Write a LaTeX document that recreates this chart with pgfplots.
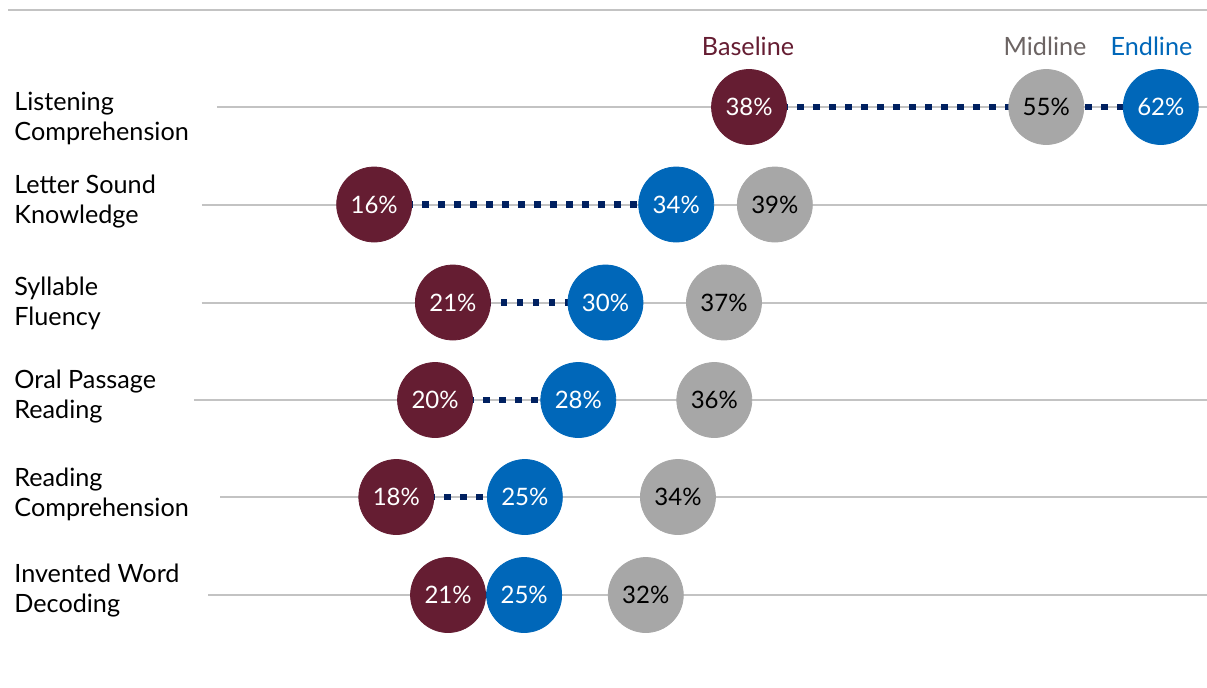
\documentclass[border=0pt]{standalone}
\usepackage{pgfplots}
\pgfplotsset{compat=1.18}
\usepackage{pgfplotstable}
\usepackage{fontspec}
\setmainfont{Lato}

\definecolor{basec}{HTML}{651D32}
\definecolor{midc}{HTML}{A7A7A7}
\definecolor{endc}{HTML}{0067B9}
\definecolor{navy}{HTML}{002060}
\definecolor{rulec}{HTML}{C3C3C3}
\definecolor{midtxt}{HTML}{6C6463}

% y = row position (px from top), b/m/e = baseline/midline/endline, *l = printed label
\pgfplotstableread{
y     b     bl  m     ml  e     el
107   37.98 38  55.16 55  61.78 62
204.5 16.31 16  39.47 39  33.77 34
302.5 20.86 21  36.53 37  29.68 30
400   19.83 20  35.97 36  28.11 28
497   17.59 18  33.87 34  25.02 25
595   20.58 21  32.01 32  24.98 25
}\scores

\begin{document}
\begin{tikzpicture}[font=\fontsize{12.6}{15}\selectfont,
    lab/.style={anchor=base west, inner sep=0pt}]
\begin{axis}[
    scale only axis, width=603.5pt, height=343.5pt,
    xmin=-5.318, xmax=64.451, ymin=0, ymax=687, y dir=reverse,
    hide axis, clip=false,
    dot/.style={only marks, color=#1, mark=*, mark size=18.75pt,
      mark options={fill=#1, draw=none},
      nodes near coords=\pgfplotspointmeta\%, point meta=explicit symbolic,
      nodes near coords align=center,
      nodes near coords style={anchor=center, text=white, font=\fontsize{12}{13}\selectfont}},
    rowline/.style={rulec, line width=1pt},
    conn/.style={navy, line width=3.3pt, dash pattern=on 3.3pt off 4.7pt},
  ]
% rules
\addplot[rowline] coordinates {(-4.855,10) (64.451,10)};
\addplot[rowline] coordinates {(7.225,107) (64.451,107)};
\addplot[rowline] coordinates {(6.358,204.5) (64.451,204.5)};
\addplot[rowline] coordinates {(6.33,302.5) (64.451,302.5)};
\addplot[rowline] coordinates {(5.89,400) (64.451,400)};
\addplot[rowline] coordinates {(7.40,497) (64.451,497)};
\addplot[rowline] coordinates {(6.72,595) (64.451,595)};
% baseline -> endline connectors
\addplot[conn] coordinates {(37.98,107) (61.78,107)};
\addplot[conn] coordinates {(16.31,204.5) (33.77,204.5)};
\addplot[conn] coordinates {(20.86,302.5) (29.68,302.5)};
\addplot[conn] coordinates {(19.83,400) (28.11,400)};
\addplot[conn] coordinates {(17.59,497) (25.02,497)};
\addplot[conn] coordinates {(20.58,595) (24.98,595)};
% circles
\addplot[dot=basec] table[x=b, y=y, meta=bl] {\scores};
\addplot[dot=midc, nodes near coords style={text=black}] table[x=m, y=y, meta=ml] {\scores};
\addplot[dot=endc] table[x=e, y=y, meta=el] {\scores};
% series names over the first row
\node[anchor=base, text=basec] at (axis cs:37.92,55) {Baseline};
\node[anchor=base, text=midtxt] at (axis cs:55.09,55) {Midline};
\node[anchor=base, text=endc] at (axis cs:61.24,55) {Endline};
% row labels
\node[lab] at (axis cs:-4.509,110) {Listening};
\node[lab] at (axis cs:-4.509,140) {Comprehension};
\node[lab] at (axis cs:-4.509,193.3) {Letter Sound};
\node[lab] at (axis cs:-4.509,223.3) {Knowledge};
\node[lab] at (axis cs:-4.509,295) {Syllable};
\node[lab] at (axis cs:-4.509,325) {Fluency};
\node[lab] at (axis cs:-4.509,388.3) {Oral Passage};
\node[lab] at (axis cs:-4.509,418.3) {Reading};
\node[lab] at (axis cs:-4.509,486.7) {Reading};
\node[lab] at (axis cs:-4.509,516.7) {Comprehension};
\node[lab] at (axis cs:-4.509,582.7) {Invented Word};
\node[lab] at (axis cs:-4.509,612.7) {Decoding};
\end{axis}
\pgfresetboundingbox
\useasboundingbox (current axis.south west) rectangle (current axis.north east);
\end{tikzpicture}
\end{document}
